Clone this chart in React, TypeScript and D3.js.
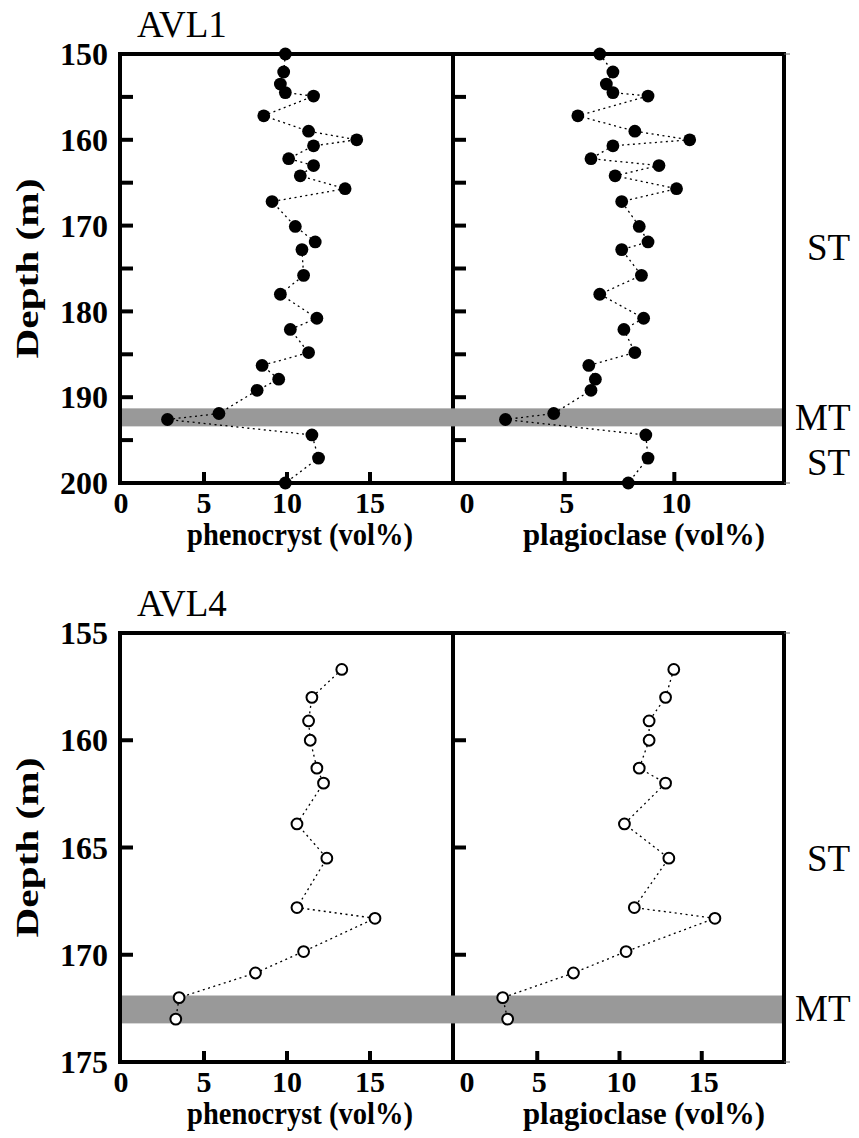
import React from "react";
import * as d3 from "d3";

// ---------- data ----------
const avl1Depth = [150.0, 152.1, 153.5, 154.5, 154.9, 157.2, 159.0, 160.0, 160.7, 162.2, 163.0, 164.2, 165.7, 167.2, 170.1, 171.9, 172.8, 175.8, 178.0, 180.8, 182.1, 184.8, 186.3, 187.9, 189.2, 191.9, 192.6, 194.4, 197.1, 200.0];
const avl1Pheno = [9.9, 9.8, 9.6, 9.9, 11.6, 8.6, 11.3, 14.2, 11.6, 10.1, 11.6, 10.8, 13.5, 9.1, 10.5, 11.7, 10.9, 11.0, 9.6, 11.8, 10.2, 11.3, 8.5, 9.5, 8.2, 5.9, 2.8, 11.5, 11.9, 9.9];
const avl1Plag = [6.6, 7.2, 6.9, 7.2, 8.8, 5.6, 8.2, 10.7, 7.2, 6.2, 9.3, 7.3, 10.1, 7.6, 8.4, 8.8, 7.6, 8.5, 6.6, 8.6, 7.7, 8.2, 6.1, 6.4, 6.2, 4.5, 2.3, 8.7, 8.8, 7.9];

const avl4Depth = [156.7, 158.0, 159.1, 160.0, 161.3, 162.0, 163.9, 165.5, 167.8, 168.3, 169.85, 170.85, 172.0, 173.0];
const avl4Pheno = [13.3, 11.5, 11.3, 11.4, 11.8, 12.2, 10.6, 12.4, 10.6, 15.3, 11.0, 8.1, 3.5, 3.3];
const avl4Plag = [13.3, 12.8, 11.8, 11.8, 11.2, 12.8, 10.3, 13.0, 10.9, 15.8, 10.4, 7.2, 2.9, 3.2];

const avl1Band = [191.3, 193.4];
const avl4Band = [171.9, 173.2];

const avl1YTicks = [150, 155, 160, 165, 170, 175, 180, 185, 190, 195, 200];
const avl1YLabels = [150, 160, 170, 180, 190, 200];
const avl4YTicks = [155, 160, 165, 170, 175];
const avl4YLabels = [155, 160, 165, 170, 175];

const avl1PhenoTicks = [0, 5, 10, 15];
const avl1PlagTicks = [0, 5, 10];
const avl4PhenoTicks = [0, 5, 10, 15];
const avl4PlagTicks = [0, 5, 10, 15];

const avl1Units = [
  { label: "ST", depth: 172.5, x: 807 },
  { label: "MT", depth: 192.3, x: 795 },
  { label: "ST", depth: 197.5, x: 807 },
];
const avl4Units = [
  { label: "ST", depth: 165.5, x: 807 },
  { label: "MT", depth: 172.5, x: 795 },
];

const FONT = "'Liberation Serif', 'Times New Roman', serif";

type PanelProps = {
  title: string;
  top: number;
  bottom: number;
  yDomain: [number, number];
  yTicks: number[];
  yLabels: number[];
  depth: number[];
  pheno: number[];
  plag: number[];
  leftDomain: [number, number];
  rightDomain: [number, number];
  leftTicks: number[];
  rightTicks: number[];
  band: number[];
  units: { label: string; depth: number; x: number }[];
  filled: boolean;
};

function Panel(p: PanelProps) {
  const L = 120, M = 453, R = 784;
  const y = d3.scaleLinear().domain(p.yDomain).range([p.top, p.bottom]);
  const xl = d3.scaleLinear().domain(p.leftDomain).range([121, M]);
  const xr = d3.scaleLinear().domain(p.rightDomain).range([455, R]);
  const mkLine = (xs: d3.ScaleLinear<number, number>, vals: number[]) =>
    d3.line<number>().x((v) => xs(v)).y((_, i) => y(p.depth[i]))(vals) || "";
  const ticksInner = p.yTicks.filter((t) => t !== p.yDomain[0] && t !== p.yDomain[1]);
  const marker = (cx: number, cy: number, k: string) =>
    p.filled ? (
      <circle key={k} cx={cx} cy={cy} r={6.4} fill="#000" />
    ) : (
      <circle key={k} cx={cx} cy={cy} r={5.4} fill="#fff" stroke="#000" strokeWidth={2} />
    );
  return (
    <g>
      <text x={137} y={p.top - 17} fontFamily={FONT} fontSize={37}>{p.title}</text>
      {/* frame */}
      <rect x={L} y={p.top} width={R - L} height={p.bottom - p.top} fill="none" stroke="#000" strokeWidth={4} />
      <line x1={M} x2={M} y1={p.top} y2={p.bottom} stroke="#000" strokeWidth={4} />
      {/* thin right-side marks */}
      <line x1={R} x2={R + 6} y1={p.top} y2={p.top} stroke="#666" strokeWidth={1} />
      <line x1={R} x2={R + 6} y1={p.bottom} y2={p.bottom} stroke="#666" strokeWidth={1} />
      {/* y ticks */}
      {ticksInner.map((t) => (
        <g key={"yt" + t}>
          <line x1={L} x2={L + 13} y1={y(t)} y2={y(t)} stroke="#000" strokeWidth={4} />
          <line x1={M} x2={M + 13} y1={y(t)} y2={y(t)} stroke="#000" strokeWidth={4} />
        </g>
      ))}
      {p.yLabels.map((t) => (
        <text key={"yl" + t} x={108} y={y(t)} dy="0.35em" textAnchor="end" fontFamily={FONT} fontWeight="bold" fontSize={32}>
          {t}
        </text>
      ))}
      {/* x ticks */}
      {p.leftTicks.filter((t) => t > 0).map((t) => (
        <line key={"xlt" + t} x1={xl(t)} x2={xl(t)} y1={p.bottom} y2={p.bottom - 11} stroke="#000" strokeWidth={4} />
      ))}
      {p.rightTicks.filter((t) => t > 0).map((t) => (
        <line key={"xrt" + t} x1={xr(t)} x2={xr(t)} y1={p.bottom} y2={p.bottom - 11} stroke="#000" strokeWidth={4} />
      ))}
      {p.leftTicks.map((t) => (
        <text key={"xll" + t} x={xl(t)} y={p.bottom + 30} textAnchor="middle" fontFamily={FONT} fontWeight="bold" fontSize={30}>
          {t}
        </text>
      ))}
      {p.rightTicks.map((t) => (
        <text key={"xrl" + t} x={xr(t) + (t === 0 ? 12 : 2)} y={p.bottom + 30} textAnchor="middle" fontFamily={FONT} fontWeight="bold" fontSize={30}>
          {t}
        </text>
      ))}
      <text x={187} y={p.bottom + 62} fontFamily={FONT} fontWeight="bold" fontSize={31} textLength={226} lengthAdjust="spacingAndGlyphs">
        phenocryst (vol%)
      </text>
      <text x={523} y={p.bottom + 62} fontFamily={FONT} fontWeight="bold" fontSize={31} textLength={242} lengthAdjust="spacingAndGlyphs">
        plagioclase (vol%)
      </text>
      <text
        transform={`translate(38,${(p.top + p.bottom) / 2}) rotate(-90)`}
        textAnchor="middle"
        fontFamily={FONT}
        fontWeight="bold"
        fontSize={32}
        textLength={180}
        lengthAdjust="spacingAndGlyphs"
      >
        Depth (m)
      </text>
      {/* MT band */}
      <rect x={L + 2} y={y(p.band[0])} width={R - L - 4} height={y(p.band[1]) - y(p.band[0])} fill="#999" />
      {/* unit labels */}
      {p.units.map((u, i) => (
        <text key={"u" + i} x={u.x} y={y(u.depth)} dy="0.35em" fontFamily={FONT} fontSize={37}>
          {u.label}
        </text>
      ))}
      {/* series */}
      <path d={mkLine(xl, p.pheno)} fill="none" stroke="#000" strokeWidth={1.3} strokeDasharray="2,3.5" />
      <path d={mkLine(xr, p.plag)} fill="none" stroke="#000" strokeWidth={1.3} strokeDasharray="2,3.5" />
      {p.pheno.map((v, i) => marker(xl(v), y(p.depth[i]), "pl" + i))}
      {p.plag.map((v, i) => marker(xr(v), y(p.depth[i]), "pr" + i))}
    </g>
  );
}

export default function App() {
  return (
    <svg width={859} height={1138} style={{ position: "absolute", left: 0, top: 0, background: "#fff" }}>
      <rect width={859} height={1138} fill="#fff" />
      <Panel
        title="AVL1"
        top={54}
        bottom={483}
        yDomain={[150, 200]}
        yTicks={avl1YTicks}
        yLabels={avl1YLabels}
        depth={avl1Depth}
        pheno={avl1Pheno}
        plag={avl1Plag}
        leftDomain={[0, 20]}
        rightDomain={[0, 15]}
        leftTicks={avl1PhenoTicks}
        rightTicks={avl1PlagTicks}
        band={avl1Band}
        units={avl1Units}
        filled={true}
      />
      <Panel
        title="AVL4"
        top={633}
        bottom={1062}
        yDomain={[155, 175]}
        yTicks={avl4YTicks}
        yLabels={avl4YLabels}
        depth={avl4Depth}
        pheno={avl4Pheno}
        plag={avl4Plag}
        leftDomain={[0, 20]}
        rightDomain={[0, 20]}
        leftTicks={avl4PhenoTicks}
        rightTicks={avl4PlagTicks}
        band={avl4Band}
        units={avl4Units}
        filled={false}
      />
    </svg>
  );
}
